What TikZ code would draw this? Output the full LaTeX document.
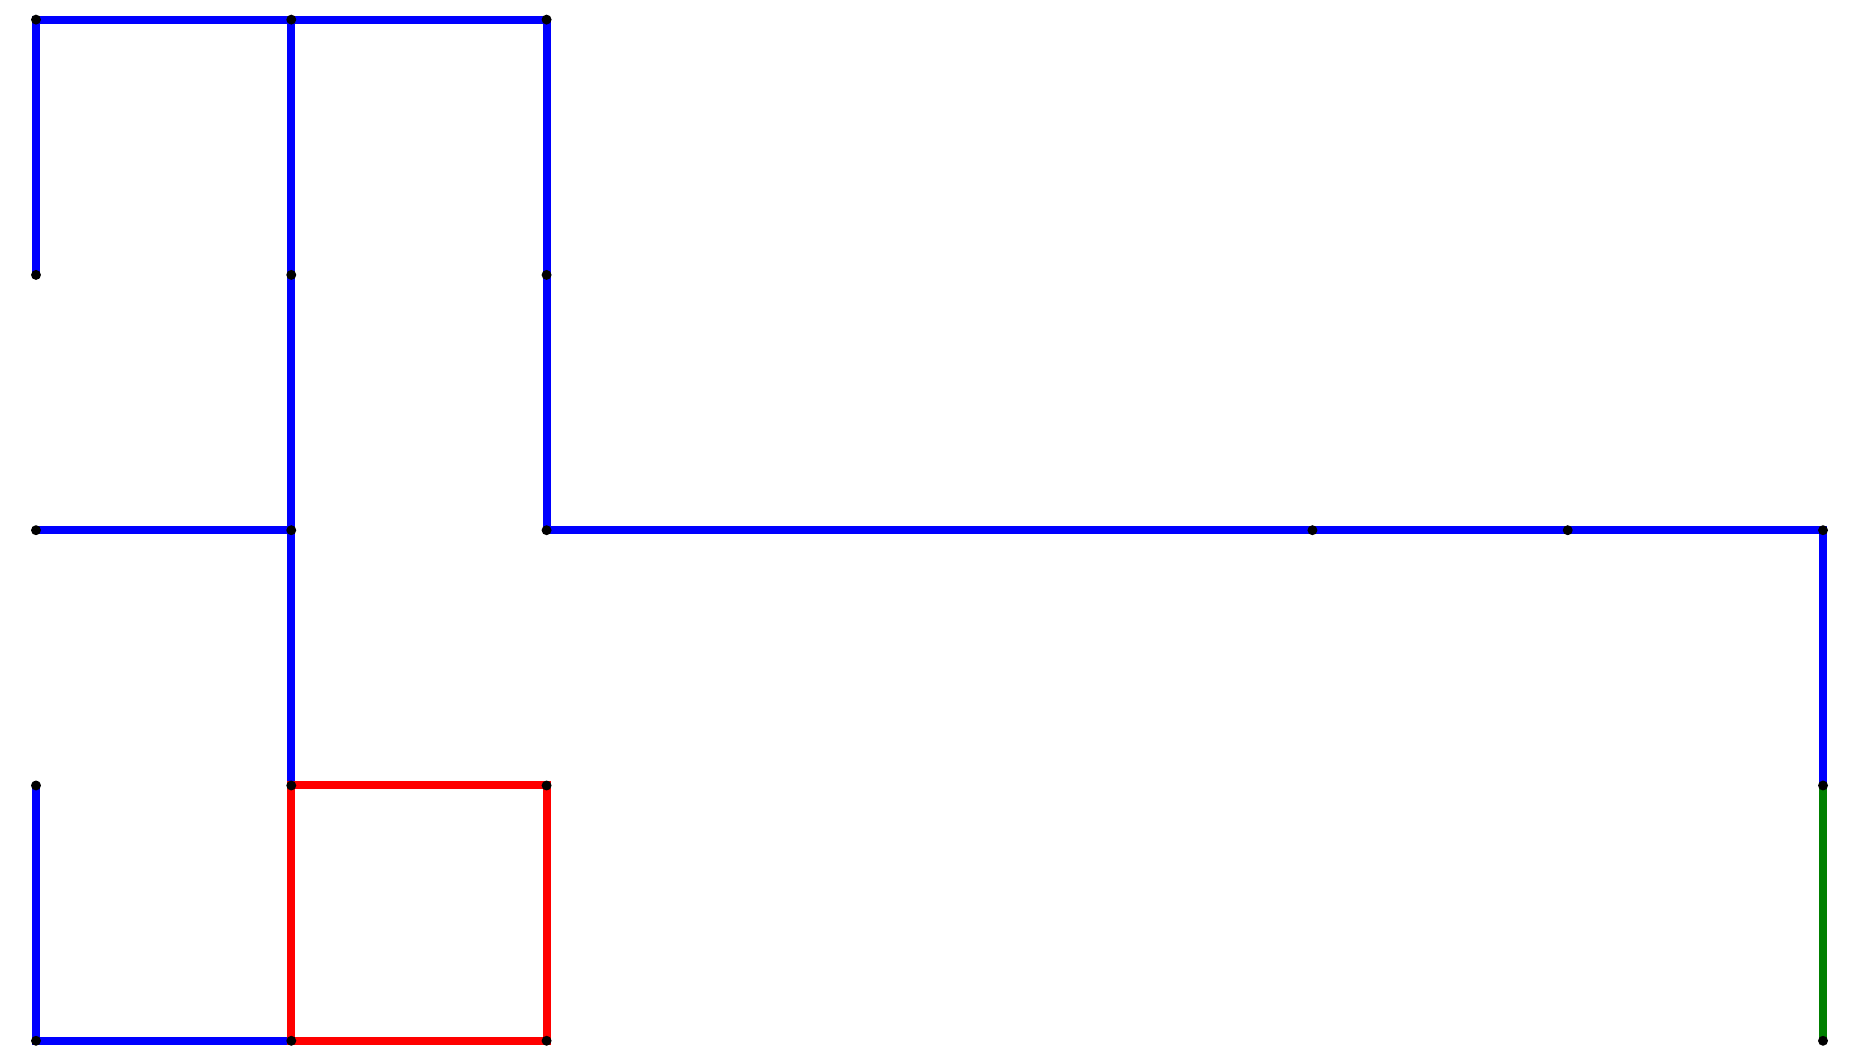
\documentclass[tikz,border=0pt]{standalone}
\begin{document}
\definecolor{pathgreen}{RGB}{0,128,0}
\begin{tikzpicture}[x=1cm,y=-1cm,
  edge/.style={line width=0.0313cm},
  blueedge/.style={edge,draw=blue},
  rededge/.style={edge,draw=red},
  greenedge/.style={edge,draw=pathgreen},
  dot/.style={circle,fill=black,inner sep=0pt,minimum size=0.039cm}]
  % page frame with margins
  \useasboundingbox (-0.141,-0.077) rectangle (7.145,4.081);
  % grid points
  \foreach \c/\r in {0/0,1/0,2/0,0/1,1/1,2/1,0/2,1/2,2/2,5/2,6/2,7/2,0/3,1/3,2/3,7/3,0/4,1/4,2/4,7/4}
    \coordinate (p\c\r) at (\c,\r);
  % blue tree
  \draw[blueedge] (p01) -- (p00) -- (p10) -- (p20);
  \draw[blueedge] (p10) -- (p11) -- (p12) -- (p13);
  \draw[blueedge] (p20) -- (p21) -- (p22);
  \draw[blueedge] (p02) -- (p12);
  \draw[blueedge] (p22) -- (p52) -- (p62) -- (p72) -- (p73);
  \draw[blueedge] (p03) -- (p04) -- (p14);
  % red cycle
  \draw[rededge] (p13) -- (p23) -- (p24) -- (p14) -- cycle;
  % green edge
  \draw[greenedge] (p73) -- (p74);
  % vertices
  \foreach \c/\r in {0/0,1/0,2/0,0/1,1/1,2/1,0/2,1/2,2/2,5/2,6/2,7/2,0/3,1/3,2/3,7/3,0/4,1/4,2/4,7/4}
    \node[dot] (v\c\r) at (p\c\r) {};
\end{tikzpicture}
\end{document}
